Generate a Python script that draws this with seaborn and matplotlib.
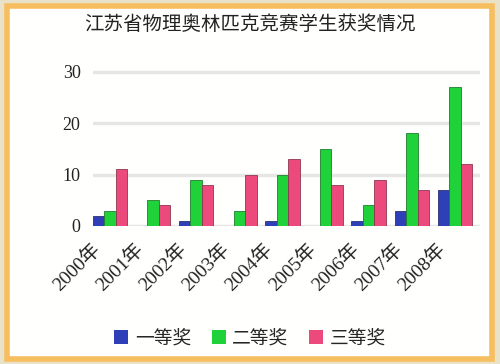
import matplotlib
matplotlib.use("Agg")
import matplotlib.pyplot as plt
import matplotlib.transforms as mtrans
import seaborn as sns
import pandas as pd
from matplotlib.patches import Rectangle

years = ["2000年", "2001年", "2002年", "2003年", "2004年", "2005年", "2006年", "2007年", "2008年"]
series = ["一等奖", "二等奖", "三等奖"]
first_prize = [2, 0, 1, 0, 1, 0, 1, 3, 7]
second_prize = [3, 5, 9, 3, 10, 15, 4, 18, 27]
third_prize = [11, 4, 8, 10, 13, 8, 9, 7, 12]
y_ticks = [0, 10, 20, 30]
title = "江苏省物理奥林匹克竞赛学生获奖情况"
colors = ["#2F3FB8", "#1FD23A", "#EC4A7C"]

df = pd.DataFrame({
    "year": years * 3,
    "series": [series[0]] * 9 + [series[1]] * 9 + [series[2]] * 9,
    "value": first_prize + second_prize + third_prize,
})

sns.set_theme(style="white")
plt.rcParams["font.family"] = ["Liberation Serif", "Noto Sans CJK SC"]

fig = plt.figure(figsize=(5.0, 3.64), dpi=100)
fig.patch.set_facecolor("#E9E2C8")
W, H = 500, 364
fig.patches.append(Rectangle((7 / W, 5 / H), 485 / W, 353 / H, transform=fig.transFigure,
                             facecolor="#FFFFFD", edgecolor="#F6BE5E", linewidth=4, zorder=-10))

ax = fig.add_axes([93 / W, 1 - 226 / H, 387 / W, 157 / H])
ax.set_facecolor("none")
sns.barplot(data=df, x="year", y="value", hue="series", palette=colors, width=0.8,
            ax=ax, legend=False, saturation=1, edgecolor="none")
for i, bars in enumerate(ax.containers):
    for b in bars:
        b.set_edgecolor(sns.dark_palette(colors[i], 3)[1])
        b.set_linewidth(0.6)

ax.set_ylim(0, 30.5)
ax.set_xlim(-0.39, 8.58)
ax.set_yticks(y_ticks)
ax.yaxis.grid(True, color="#E6E6E6", linewidth=2.5)
ax.set_axisbelow(True)
for s in ax.spines.values():
    s.set_visible(False)
ax.set_xlabel("")
ax.set_ylabel("")
ax.tick_params(axis="y", labelsize=13, colors="#222222", pad=9, length=0)
ax.tick_params(axis="x", labelsize=14, colors="#222222", length=0)
ax.set_xticks(range(len(years)))
ax.set_xticklabels(years, rotation=45, ha="right", rotation_mode="anchor")
offset = mtrans.ScaledTranslation(-19 / 100, -9 / 100, fig.dpi_scale_trans)
for lab in ax.get_xticklabels():
    lab.set_transform(lab.get_transform() + offset)

fig.text(0.5, 1 - 24 / H, title, ha="center", va="center", fontsize=14,
         family=["Noto Sans CJK SC"], color="#222222")

handles = [Rectangle((0, 0), 1, 1, facecolor=c, edgecolor="none") for c in colors]
fig.legend(handles, series, loc="center", bbox_to_anchor=(0.5, 1 - 338 / H), ncol=3,
           frameon=False, handlelength=0.75, handleheight=0.75, columnspacing=1.1,
           handletextpad=0.35, prop={"family": ["Noto Sans CJK SC"], "size": 13.5})

fig.savefig("out.png", dpi=100, facecolor=fig.get_facecolor())
